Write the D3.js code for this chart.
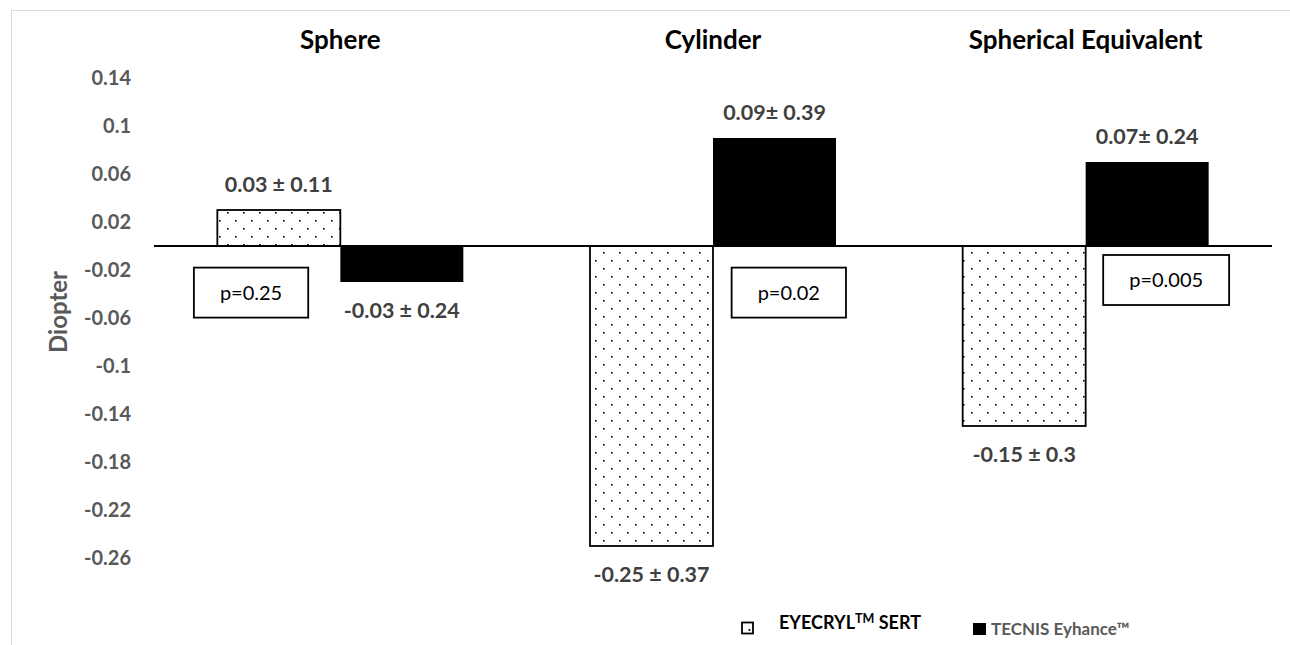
<!DOCTYPE html>
<html>
<head>
<meta charset="utf-8">
<script src="https://cdn.jsdelivr.net/npm/d3@7"></script>
<style>
    body { margin: 0; background: #fff; }
    text { font-family: Lato, "Open Sans", sans-serif; }
</style>
</head>
<body>
<script>
// ================================
// DATA
// ================================
var categories = ["Sphere", "Cylinder", "Spherical Equivalent"];
var seriesNames = ["EYECRYL", "TECNIS"];
var eyecrylValues = [0.03, -0.25, -0.15];
var tecnisValues = [-0.03, 0.09, 0.07];
var eyecrylLabels = ["0.03 ± 0.11", "-0.25 ± 0.37", "-0.15 ± 0.3"];
var tecnisLabels = ["-0.03 ± 0.24", "0.09± 0.39", "0.07± 0.24"];
var pValues = ["p=0.25", "p=0.02", "p=0.005"];
var tickValues = [0.14, 0.1, 0.06, 0.02, -0.02, -0.06, -0.1, -0.14, -0.18, -0.22, -0.26];

// where the p boxes sit (fraction of category band, top in diopter units)
var pBoxPos = [
    { fx: 0.107, top: -0.018 },
    { fx: 0.55, top: -0.018 },
    { fx: 0.547, top: -0.0075 }
];

var width = 1290,
    height = 645;

var svg = d3.select("body")
    .append("svg")
    .attr("width", width)
    .attr("height", height);

// dotted fill
var defs = svg.append("defs");
var pat = defs.append("pattern")
    .attr("id", "dots")
    .attr("patternUnits", "userSpaceOnUse")
    .attr("width", 16)
    .attr("height", 16);
pat.append("rect").attr("width", 16).attr("height", 16).attr("fill", "#fff");
pat.append("rect").attr("x", 3).attr("y", 4).attr("width", 1.6).attr("height", 1.6).attr("fill", "#000");
pat.append("rect").attr("x", 11).attr("y", 12).attr("width", 1.6).attr("height", 1.6).attr("fill", "#000");

// chart frame (only top and left are visible)
svg.append("path")
    .attr("d", "M11.5,645 V10.5 H1290")
    .attr("fill", "none")
    .attr("stroke", "#d9d9d9")
    .attr("stroke-width", 1);

// ================================
// SCALES
// ================================
var x0 = d3.scaleBand()
    .domain(categories)
    .range([154, 1272])
    .padding(0);

var x1 = d3.scaleBand()
    .domain(seriesNames)
    .range([0, x0.bandwidth()])
    .paddingInner(0)
    .paddingOuter(0.515);

var y = d3.scaleLinear()
    .domain([-0.28, 0.16])
    .range([246 + 0.28 * 1200, 246 - 0.16 * 1200]);

// y axis (labels only)
var yAxis = d3.axisLeft(y)
    .tickValues(tickValues)
    .tickSize(0)
    .tickPadding(0)
    .tickFormat(function(d){ return String(+d.toFixed(2)); });

var yg = svg.append("g")
    .attr("transform", "translate(131,0)")
    .call(yAxis);
yg.select(".domain").remove();
yg.selectAll("text")
    .attr("fill", "#595959")
    .style("font-size", "20px")
    .style("font-weight", "bold")
    .style("font-family", "Lato, sans-serif");

svg.append("text")
    .attr("transform", "translate(67,312) rotate(-90)")
    .attr("text-anchor", "middle")
    .attr("fill", "#595959")
    .style("font-size", "24px")
    .style("font-weight", "bold")
    .text("Diopter");

// category titles
svg.selectAll(".catTitle")
    .data(categories)
    .enter()
    .append("text")
    .attr("class", "catTitle")
    .attr("x", function(d){ return x0(d) + x0.bandwidth() / 2; })
    .attr("y", 49)
    .attr("text-anchor", "middle")
    .style("font-size", "26px")
    .style("font-weight", "bold")
    .attr("fill", "#000")
    .text(function(d){ return d; });

// ================================
// BARS
// ================================
var rows = categories.map(function(c, i){
    return [
        { cat: c, s: "EYECRYL", v: eyecrylValues[i], label: eyecrylLabels[i] },
        { cat: c, s: "TECNIS", v: tecnisValues[i], label: tecnisLabels[i] }
    ];
});
var flat = [].concat.apply([], rows);

svg.selectAll(".bars")
    .data(flat)
    .enter()
    .append("rect")
    .attr("class", "bars")
    .attr("x", function(d){ return x0(d.cat) + x1(d.s); })
    .attr("width", x1.bandwidth())
    .attr("y", function(d){ return y(Math.max(0, d.v)); })
    .attr("height", function(d){ return Math.abs(y(d.v) - y(0)); })
    .attr("fill", function(d){ return d.s === "EYECRYL" ? "url(#dots)" : "#000"; })
    .attr("stroke", "#000")
    .attr("stroke-width", function(d){ return d.s === "EYECRYL" ? 1.8 : 0; });

// zero line
svg.append("line")
    .attr("x1", 154)
    .attr("x2", 1272)
    .attr("y1", y(0))
    .attr("y2", y(0))
    .attr("stroke", "#000")
    .attr("stroke-width", 2);

// value labels
svg.selectAll(".numbers")
    .data(flat)
    .enter()
    .append("text")
    .attr("class", "numbers")
    .attr("x", function(d){ return x0(d.cat) + x1(d.s) + x1.bandwidth() / 2; })
    .attr("y", function(d){ return d.v >= 0 ? y(d.v) - 18 : y(d.v) + 36; })
    .attr("text-anchor", "middle")
    .attr("fill", "#404040")
    .style("font-size", "21.5px")
    .style("font-weight", "bold")
    .text(function(d){ return d.label; });

// p value boxes
var pg = svg.selectAll(".pbox")
    .data(pValues)
    .enter()
    .append("g")
    .attr("class", "pbox");

pg.append("text")
    .attr("text-anchor", "middle")
    .style("font-size", "20px")
    .attr("fill", "#000")
    .text(function(d){ return d; });

pg.each(function(d, i){
    var g = d3.select(this);
    var tw = g.select("text").node().getComputedTextLength();
    var bw = tw + 52, bh = 50;
    var bx = x0(categories[i]) + pBoxPos[i].fx * x0.bandwidth();
    var by = y(pBoxPos[i].top);
    g.insert("rect", "text")
        .attr("x", bx)
        .attr("y", by)
        .attr("width", bw)
        .attr("height", bh)
        .attr("fill", "#fff")
        .attr("stroke", "#000")
        .attr("stroke-width", 1.8);
    g.select("text")
        .attr("x", bx + bw / 2)
        .attr("y", by + 32);
});

// ================================
// LEGEND
// ================================
var leg = svg.append("g");

leg.append("rect")
    .attr("x", 742).attr("y", 622.5)
    .attr("width", 11).attr("height", 11)
    .attr("fill", "#fff")
    .attr("stroke", "#000")
    .attr("stroke-width", 1.8);
leg.append("rect")
    .attr("x", 748.5).attr("y", 629)
    .attr("width", 1.8).attr("height", 1.8)
    .attr("fill", "#000");

var t1 = leg.append("text")
    .attr("x", 779)
    .attr("y", 629)
    .attr("fill", "#000")
    .style("font-size", "18px")
    .style("font-weight", "bold");
t1.append("tspan").text("EYECRYL");
t1.append("tspan").attr("dy", -6).style("font-size", "12.5px").text("TM");
t1.append("tspan").attr("dy", 6).text(" SERT");

leg.append("rect")
    .attr("x", 973).attr("y", 623)
    .attr("width", 13).attr("height", 12)
    .attr("fill", "#000");

leg.append("text")
    .attr("x", 991)
    .attr("y", 635)
    .attr("fill", "#595959")
    .style("font-size", "17px")
    .style("font-weight", "bold")
    .text("TECNIS Eyhance™");
</script>
</body>
</html>
